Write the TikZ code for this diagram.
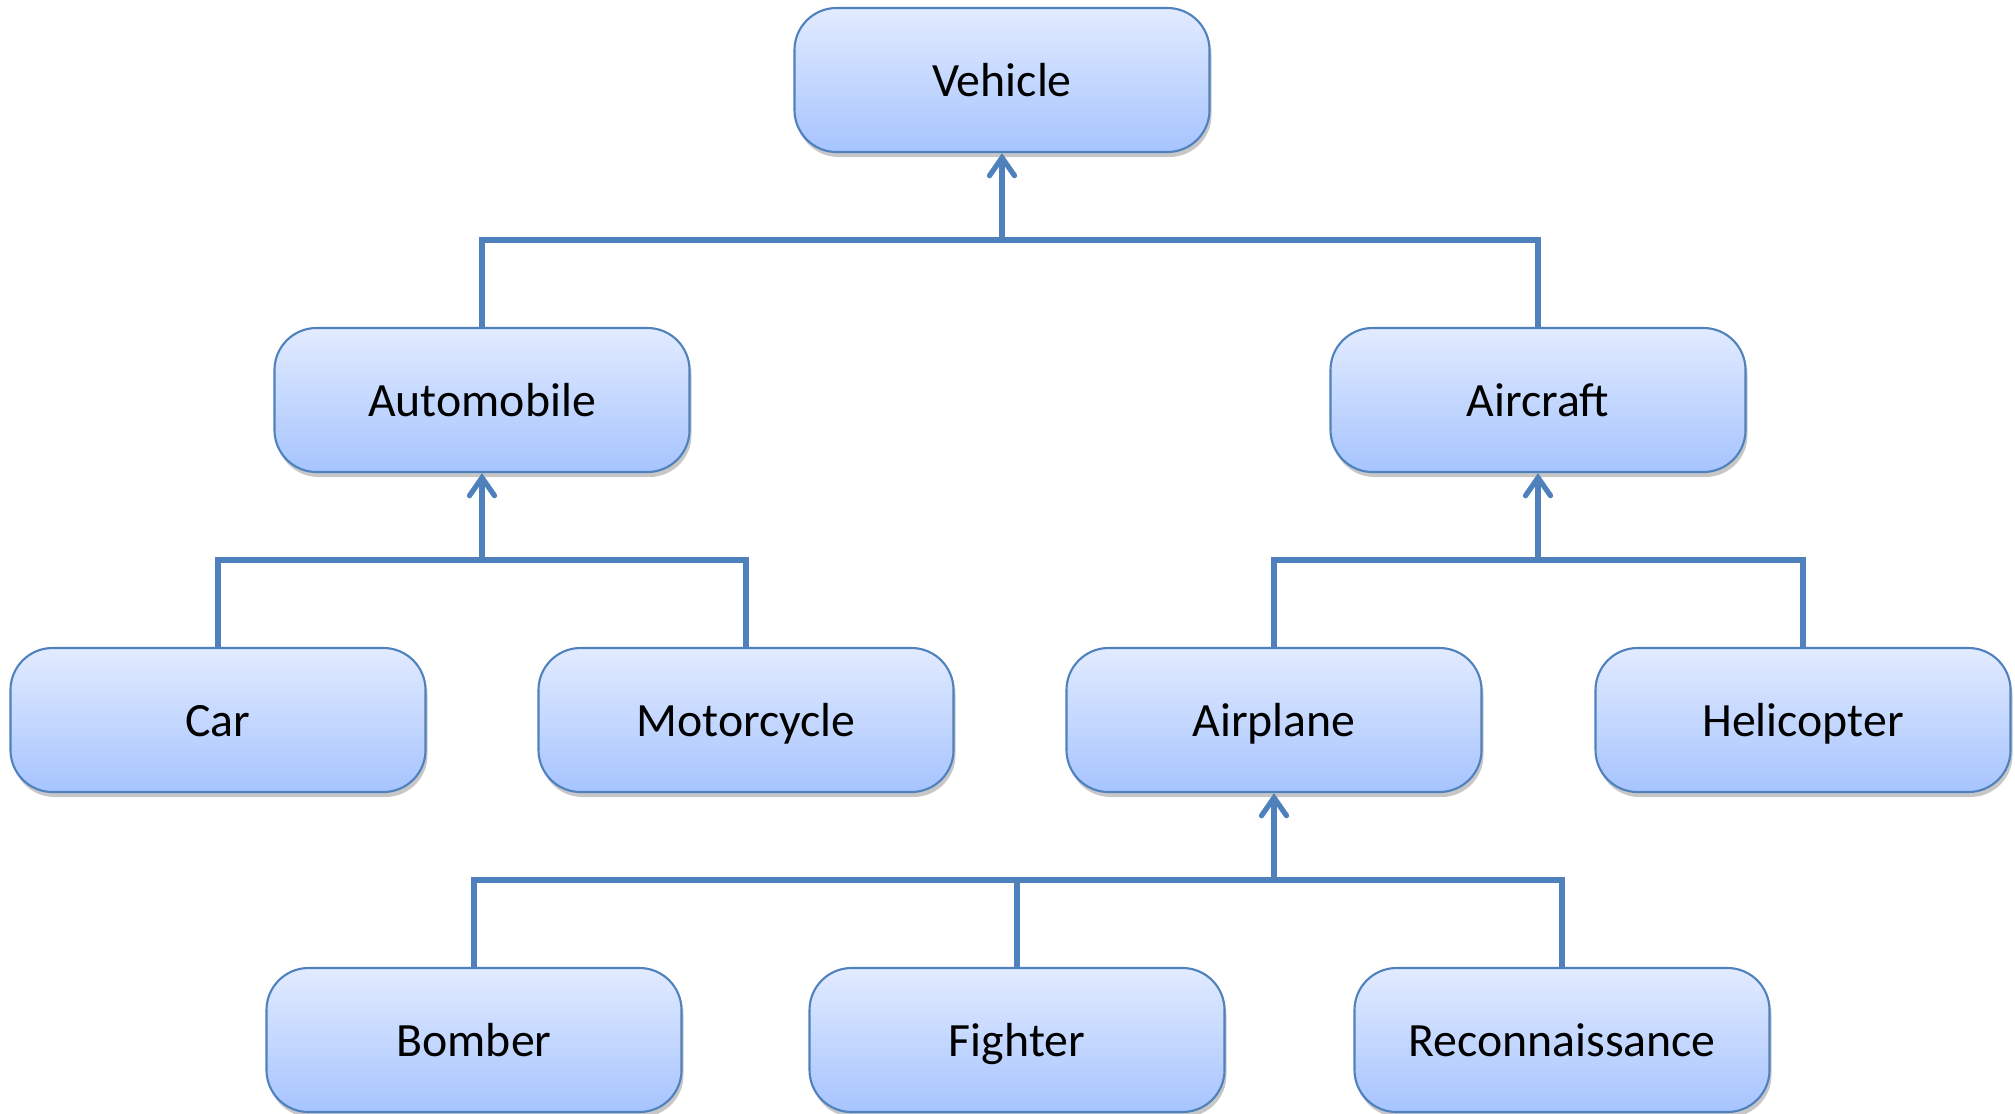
\documentclass[tikz,border=0pt]{standalone}
\usepackage{fontspec}
\setmainfont{Carlito}
\usetikzlibrary{arrows.meta, positioning, shadows}
\definecolor{bord}{RGB}{79,129,189}
\definecolor{topc}{RGB}{226,235,255}
\definecolor{botc}{RGB}{166,196,254}
\tikzset{
  % class box (rounded, blue gradient, soft shadow)
  cls/.style={rectangle, rounded corners=0.42cm, draw=bord, line width=0.6pt,
              top color=topc, bottom color=botc, minimum width=4.15cm,
              minimum height=1.44cm, inner sep=0pt,
              font=\fontsize{13.6}{16}\selectfont, text height=9.6pt, text depth=0pt,
              drop shadow={shadow xshift=0.02cm, shadow yshift=-0.05cm,
                           fill=black!22, opacity=1}},
  ln/.style={draw=bord, line width=1.5pt},
  ar/.style={ln, -{Straight Barb[length=1.8mm, width=2.5mm, line cap=round]}}
}
\begin{document}
\begin{tikzpicture}
  \useasboundingbox (0,0) rectangle (20.15,11.13);

  \node[cls] (veh)   at (10.02,10.33) {Vehicle};
  \node[cls] (auto)  at (4.82,7.13)   {Automobile};
  \node[cls] (air)   at (15.38,7.13)  {Aircraft};
  \node[cls] (car)   at (2.18,3.93)   {Car};
  \node[cls] (moto)  at (7.46,3.93)   {Motorcycle};
  \node[cls] (plane) at (12.74,3.93)  {Airplane};
  \node[cls] (heli)  at (18.03,3.93)  {Helicopter};
  \node[cls] (bomb)  at (4.74,0.73)   {Bomber};
  \node[cls] (fight) at (10.17,0.73)  {Fighter};
  \node[cls] (recon) at (15.62,0.73)  {Reconnaissance};

  % bus junctions below each parent
  \coordinate (jveh)   at (10.02,8.73);
  \coordinate (jauto)  at (4.82,5.53);
  \coordinate (jplane) at (12.74,2.33);
  \coordinate (jair)   at (15.38,5.53);

  \draw[ln] (auto.north) |- (jveh);
  \draw[ln] (air.north) |- (jveh);
  \draw[ar] (jveh) -- (veh.south);

  \draw[ln] (car.north) |- (jauto);
  \draw[ln] (moto.north) |- (jauto);
  \draw[ar] (jauto) -- (auto.south);

  \draw[ln] (plane.north) |- (jair);
  \draw[ln] (heli.north) |- (jair);
  \draw[ar] (jair) -- (air.south);

  \draw[ln] (bomb.north) |- (jplane);
  \draw[ln] (fight.north) |- (jplane);
  \draw[ln] (recon.north) |- (jplane);
  \draw[ar] (jplane) -- (plane.south);
\end{tikzpicture}
\end{document}
